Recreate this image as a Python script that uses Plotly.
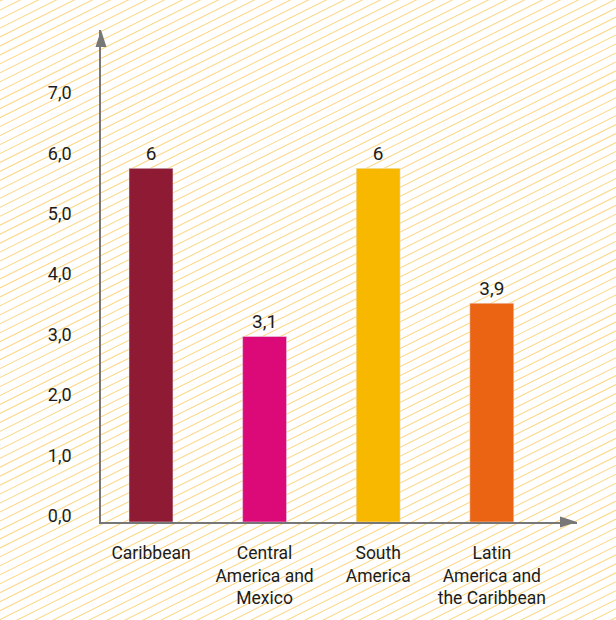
import plotly.graph_objects as go

# ---- data ----
categories = ["Caribbean", "Central<br>America and<br>Mexico", "South<br>America", "Latin<br>America and<br>the Caribbean"]
values = [5.85, 3.07, 5.85, 3.62]
value_labels = ["6", "3,1", "6", "3,9"]
colors = ["#8e1a33", "#dc0a78", "#f9b800", "#eb6414"]
y_ticks = [0, 1, 2, 3, 4, 5, 6, 7]

# ---- layout geometry (pixels) ----
W, H = 616, 620
ML, MR, MT, MB = 101, 39, 30, 96
PW, PH = W - ML - MR, H - MT - MB

def px(x):
    return (x - ML) / PW

def py(y):
    return (H - MB - y) / PH

FONT = "Roboto"
TXT = "#1c1c1c"

fig = go.Figure()
fig.add_trace(go.Bar(
    x=categories, y=values, marker_color=colors, width=0.387,
    text=value_labels, textposition="outside",
    textfont=dict(family=FONT, size=19, color=TXT),
    cliponaxis=False, hoverinfo="skip",
))

shapes = []
# diagonal stripe background
slope = 0.5
step = 9
c = -int(W * slope) - step
while c < H + step:
    x0, x1 = 0, W
    y0u, y1u = c, c + slope * W
    shapes.append(dict(type="line", xref="paper", yref="paper", layer="below",
                       x0=px(x0), x1=px(x1), y0=py(H - y0u), y1=py(H - y1u),
                       line=dict(color="#fcd98c", width=1.1)))
    c += step

# arrow heads
ax_col = "#777777"
shapes.append(dict(type="path", xref="paper", yref="paper", layer="above",
                   path=f"M {px(101)} {py(30)} L {px(95.5)} {py(47)} L {px(106.5)} {py(47)} Z",
                   fillcolor=ax_col, line=dict(width=0)))
shapes.append(dict(type="path", xref="paper", yref="paper", layer="above",
                   path=f"M {px(577)} {py(524)} L {px(560)} {py(518.5)} L {px(560)} {py(529.5)} Z",
                   fillcolor=ax_col, line=dict(width=0)))

fig.update_layout(
    width=W, height=H,
    margin=dict(l=ML, r=MR, t=MT, b=MB),
    paper_bgcolor="white", plot_bgcolor="rgba(0,0,0,0)",
    separators=", ",
    showlegend=False,
    shapes=shapes,
    font=dict(family=FONT, color=TXT),
    xaxis=dict(range=[-0.44, 3.75], showline=True, linecolor=ax_col, linewidth=1.5,
               showgrid=False, zeroline=False, ticks="",
               ticklabelstandoff=14,
               tickfont=dict(family=FONT, size=17.5, color=TXT)),
    yaxis=dict(range=[0, PH / 60.7], showline=True, linecolor=ax_col, linewidth=1.5,
               showgrid=False, zeroline=False, ticks="",
               tickvals=y_ticks, tickformat=".1f",
               ticklabelstandoff=24, ticklabelshift=-6,
               tickfont=dict(family=FONT, size=18, color=TXT)),
)

fig.write_html("out.html")
